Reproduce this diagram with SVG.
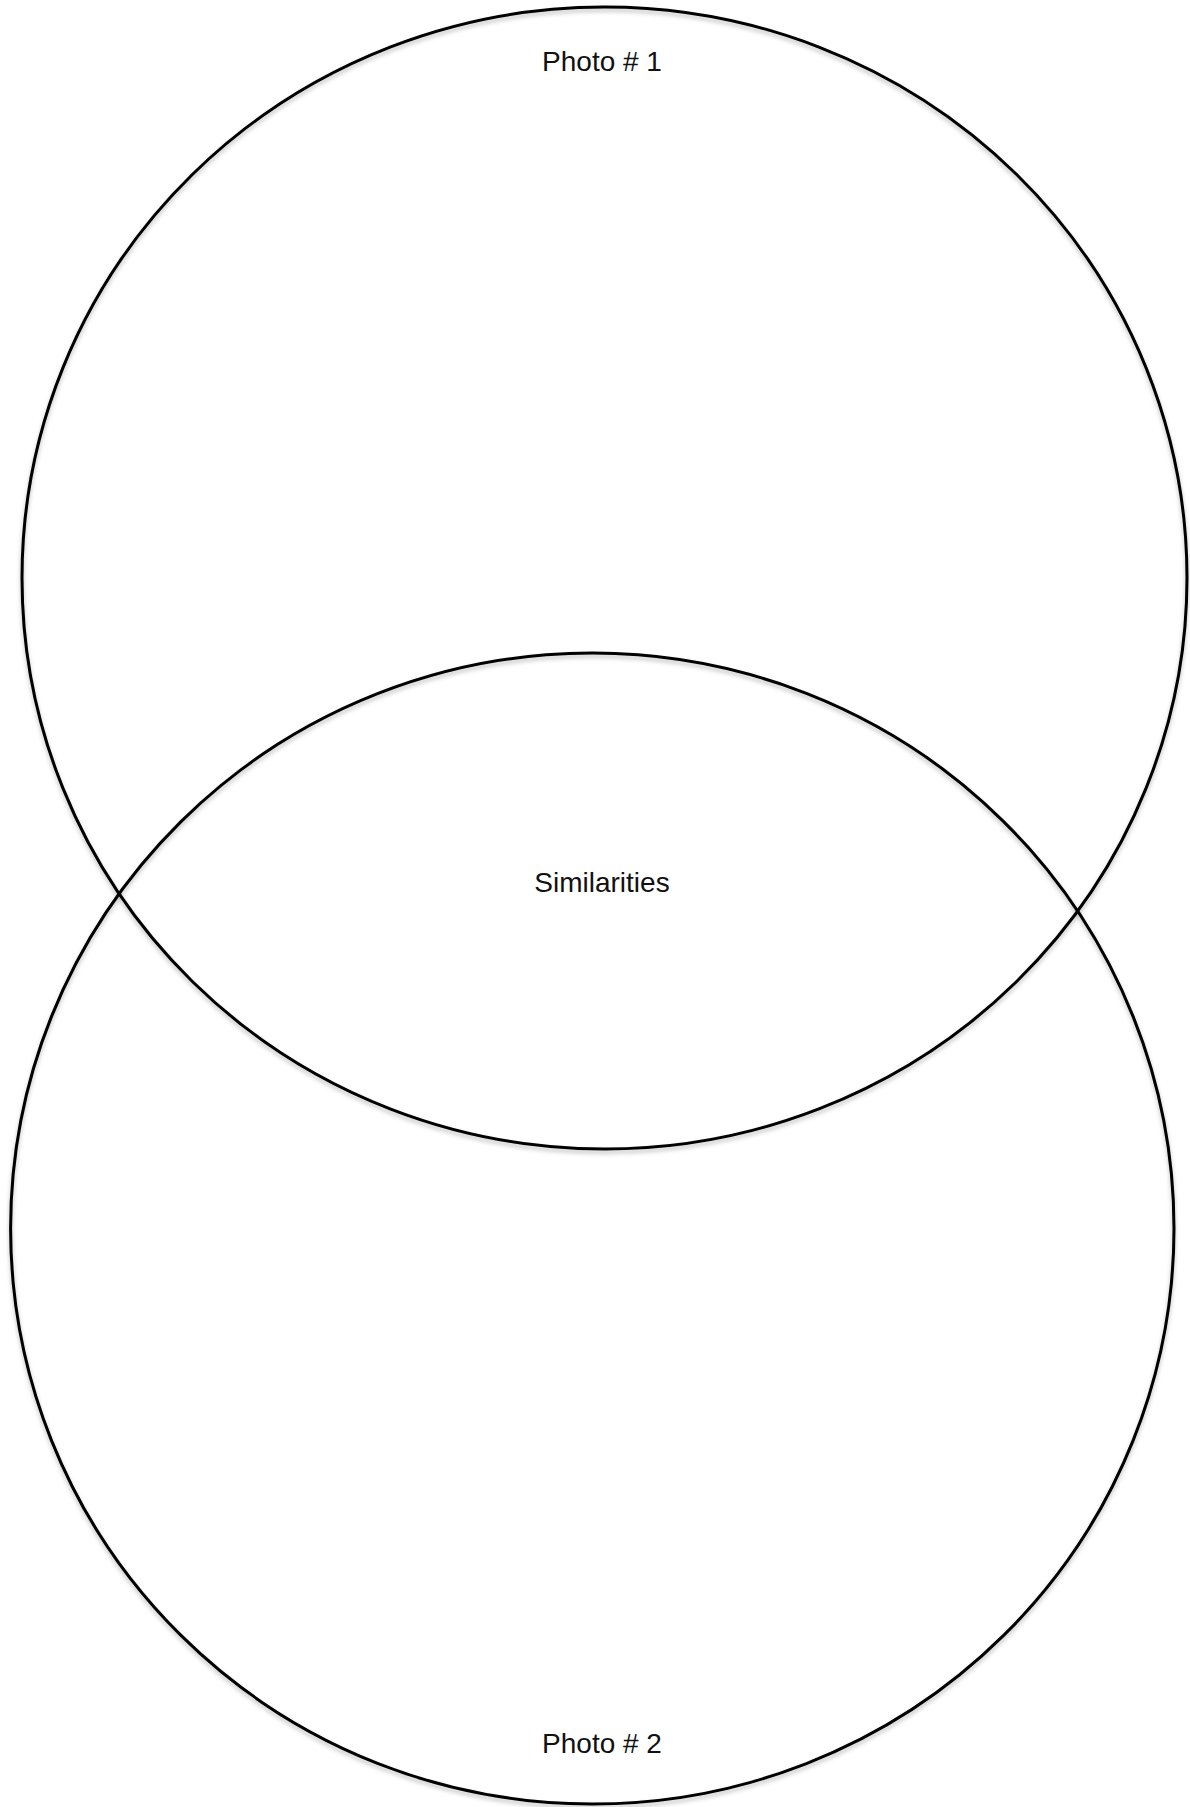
<svg xmlns="http://www.w3.org/2000/svg" width="1190" height="1807" viewBox="0 0 1190 1807">
  <style>
    .ring { fill: none; stroke: #000; stroke-width: 3; }
    .label { font-family: "Liberation Sans", Arial, sans-serif; font-size: 28px; fill: #111; text-anchor: middle; }
  </style>
  <defs>
    <filter id="shadow" x="-5%" y="-5%" width="110%" height="110%">
      <feDropShadow dx="0" dy="3" stdDeviation="2" flood-color="#000" flood-opacity="0.25"/>
    </filter>
  </defs>
  <rect width="1190" height="1807" fill="#fff"/>
  <g id="photo1">
    <ellipse class="ring" cx="604.5" cy="578" rx="582.5" ry="571" filter="url(#shadow)"/>
    <text class="label" x="602" y="70.5">Photo # 1</text>
  </g>
  <g id="photo2">
    <ellipse class="ring" cx="592.3" cy="1228.5" rx="581.7" ry="575.5" filter="url(#shadow)"/>
    <text class="label" x="602" y="1753">Photo # 2</text>
  </g>
  <g id="similarities">
    <text class="label" x="602" y="891.5">Similarities</text>
  </g>
  <g id="connectors"></g>
</svg>
